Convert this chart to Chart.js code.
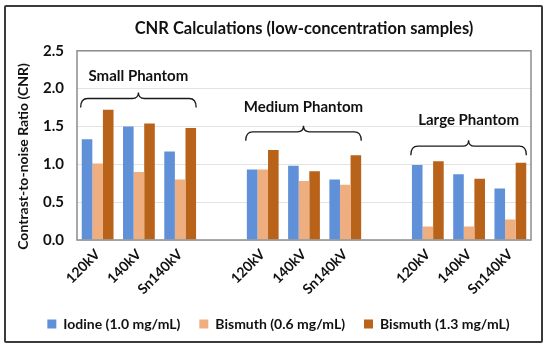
<!DOCTYPE html>
<html>
<head>
<meta charset="utf-8">
<script src="https://cdn.jsdelivr.net/npm/chart.js@4.4.1/dist/chart.umd.min.js"></script>
<style>
  body { margin: 0; background: #fff; }
  #wrap { position: relative; width: 550px; height: 349px; }
  #frame { position: absolute; left: 4px; top: 5px; width: 535px; height: 334px;
           border: 2px solid #3a3a3a; border-radius: 2px; pointer-events: none; }
</style>
</head>
<body>
<div id="wrap">
  <canvas id="cnr-chart" width="550" height="349"></canvas>
  <div id="frame"></div>
</div>
<script>
// categories (blank entries are the gaps between phantom groups)
const categories = ['120kV', '140kV', 'Sn140kV', '', '120kV', '140kV', 'Sn140kV', '', '120kV', '140kV', 'Sn140kV'];

// CNR values
const iodine10 = [1.33, 1.50, 1.17, null, 0.93, 0.98, 0.80, null, 0.99, 0.87, 0.68];
const bismuth06 = [1.01, 0.90, 0.80, null, 0.93, 0.78, 0.73, null, 0.18, 0.18, 0.27];
const bismuth13 = [1.72, 1.54, 1.48, null, 1.19, 0.91, 1.12, null, 1.04, 0.81, 1.02];

const yTicks = [0, 0.5, 1.0, 1.5, 2.0, 2.5];

// brace groups: first/last category index, brace height (CNR units), label height
const phantomNames = ['Small Phantom', 'Medium Phantom', 'Large Phantom'];
const phantomFrom = [0, 4, 8];
const phantomTo = [2, 6, 10];
const braceLevel = [1.87, 1.43, 1.24];
const labelLevel = [2.17, 1.75, 1.59];

const yTitle = 'Contrast-to-noise Ratio (CNR)';

const FONT = "Lato, 'Open Sans', sans-serif";

// grey box round the plot area, plus the y-axis title (sits a bit low in the original)
const plotBorder = {
    id: 'plotBorder',
    afterDraw(chart) {
        const a = chart.chartArea;
        const ctx = chart.ctx;
        ctx.save();
        ctx.strokeStyle = '#8c8c8c';
        ctx.lineWidth = 1.5;
        ctx.strokeRect(a.left, a.top, a.right - a.left, a.bottom - a.top);

        ctx.translate(23, (a.top + a.bottom) / 2 + 11);
        ctx.rotate(-Math.PI / 2);
        ctx.fillStyle = '#111';
        ctx.font = "bold 14px " + FONT;
        ctx.textAlign = 'center';
        ctx.textBaseline = 'middle';
        ctx.fillText(yTitle, 0, 0);
        ctx.restore();
    }
};

// curly braces with the phantom names above them
const phantomBraces = {
    id: 'phantomBraces',
    afterDatasetsDraw(chart) {
        const x = chart.scales.x;
        const y = chart.scales.y;
        const ctx = chart.ctx;
        ctx.save();
        ctx.strokeStyle = '#1a1a1a';
        ctx.lineWidth = 1.3;
        ctx.fillStyle = '#111';
        ctx.font = "bold 15px " + FONT;
        ctx.textAlign = 'center';
        ctx.textBaseline = 'middle';
        for (let i = 0; i < phantomNames.length; i++) {
            const x1 = x.getPixelForValue(phantomFrom[i]) - 17;
            const x2 = x.getPixelForValue(phantomTo[i]) + 16;
            const xm = (x1 + x2) / 2;
            const yb = y.getPixelForValue(braceLevel[i]);
            ctx.beginPath();
            ctx.moveTo(x1, yb + 9);
            ctx.quadraticCurveTo(x1, yb, x1 + 7, yb);
            ctx.lineTo(xm - 6, yb);
            ctx.quadraticCurveTo(xm, yb, xm, yb - 6);
            ctx.quadraticCurveTo(xm, yb, xm + 6, yb);
            ctx.lineTo(x2 - 7, yb);
            ctx.quadraticCurveTo(x2, yb, x2, yb + 9);
            ctx.stroke();
            ctx.fillText(phantomNames[i], xm, y.getPixelForValue(labelLevel[i]));
        }
        ctx.restore();
    }
};

new Chart(document.getElementById('cnr-chart'), {
    type: 'bar',
    data: {
        labels: categories,
        datasets: [{
            label: 'Iodine (1.0 mg/mL)',
            data: iodine10,
            backgroundColor: '#5f90d8'
        }, {
            label: 'Bismuth (0.6 mg/mL)',
            data: bismuth06,
            backgroundColor: '#eeae80'
        }, {
            label: 'Bismuth (1.3 mg/mL)',
            data: bismuth13,
            backgroundColor: '#b8621a'
        }]
    },
    options: {
        responsive: false,
        animation: false,
        layout: { padding: { left: 26, right: 19, top: 0, bottom: 8 } },
        datasets: {
            bar: { categoryPercentage: 0.77, barPercentage: 1.0 }
        },
        plugins: {
            title: {
                display: true,
                text: 'CNR Calculations (low-concentration samples)',
                color: '#111',
                fullSize: false,
                font: { family: FONT, size: 16.5, weight: 'bold' },
                padding: { top: 19, bottom: 12 }
            },
            legend: {
                position: 'bottom',
                labels: {
                    color: '#111',
                    boxWidth: 9,
                    boxHeight: 9,
                    padding: 19,
                    font: { family: FONT, size: 14, weight: 'bold' }
                }
            },
            tooltip: { enabled: false }
        },
        scales: {
            x: {
                afterFit(scale) { scale.height = 58; },
                grid: { display: false, drawTicks: false },
                border: { display: false },
                ticks: {
                    color: '#111',
                    maxRotation: 45,
                    minRotation: 45,
                    autoSkip: false,
                    padding: 6,
                    font: { family: FONT, size: 14, weight: 'bold' }
                }
            },
            y: {
                min: 0,
                max: 2.5,
                afterFit(scale) { scale.width = 51; },
                afterBuildTicks(scale) { scale.ticks = yTicks.map(v => ({ value: v })); },
                grid: { color: '#e3e3e3', drawTicks: false },
                border: { display: false },
                ticks: {
                    color: '#111',
                    padding: 13,
                    callback: v => v.toFixed(1),
                    font: { family: FONT, size: 15, weight: 'bold' }
                }
            }
        }
    },
    plugins: [plotBorder, phantomBraces]
});
</script>
</body>
</html>
